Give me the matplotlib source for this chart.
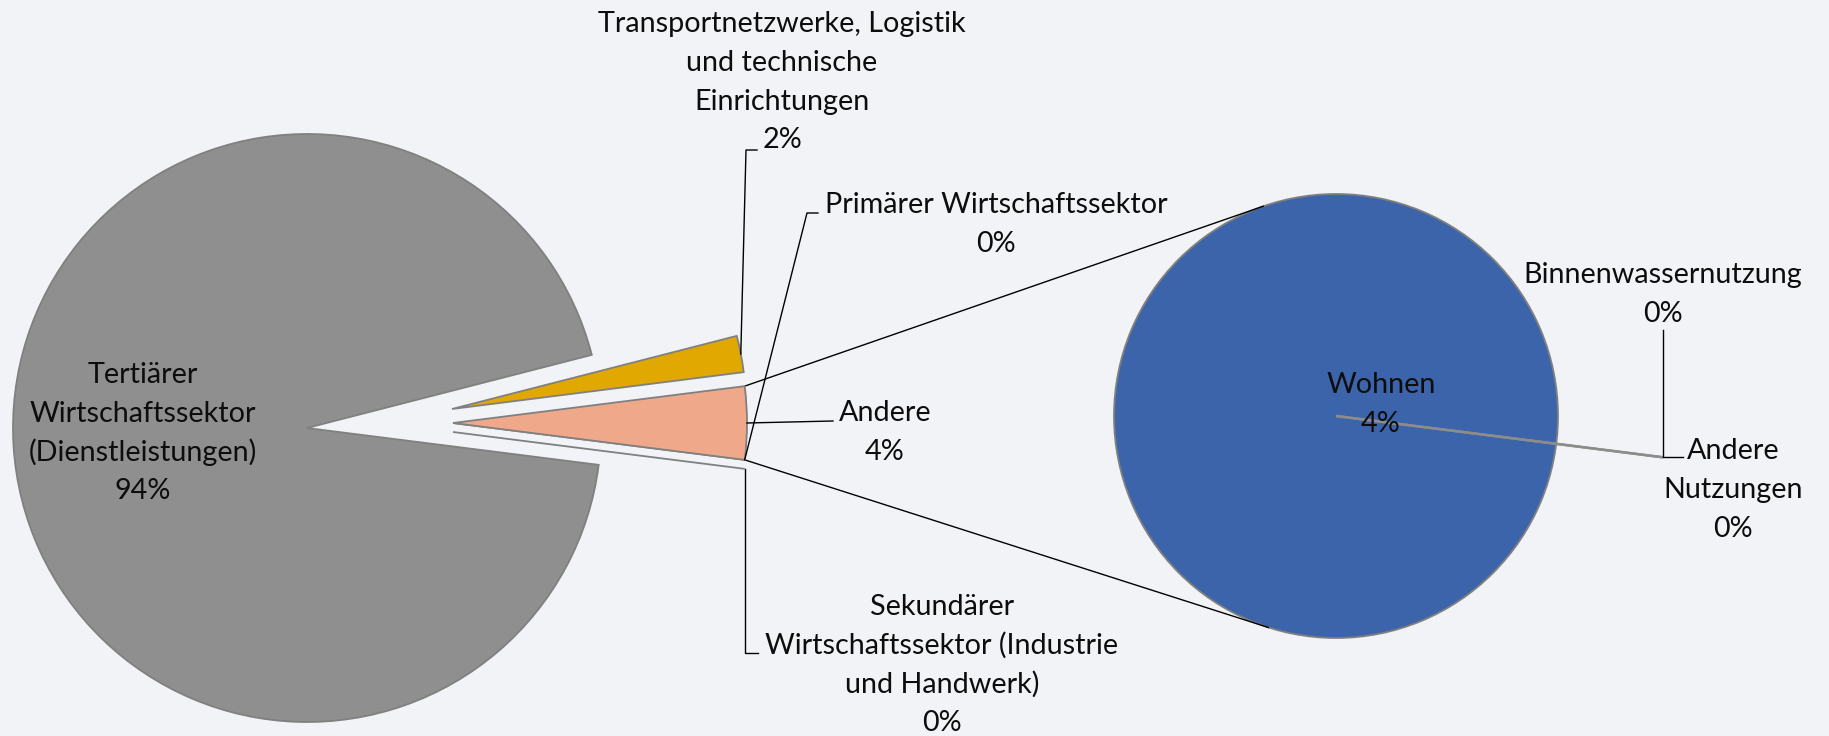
import matplotlib
matplotlib.use("Agg")
import matplotlib.pyplot as plt
import numpy as np

# ---------------- data ----------------
main_labels = [
    "Sekundärer\nWirtschaftssektor (Industrie\nund Handwerk)",
    "Primärer Wirtschaftssektor",
    "Andere",
    "Transportnetzwerke, Logistik\nund technische\nEinrichtungen",
    "Tertiärer\nWirtschaftssektor\n(Dienstleistungen)",
]
sub_labels = ["Wohnen", "Binnenwassernutzung", "Andere\nNutzungen"]
sub_values = [4, 0, 0]
main_values = [0, 0, sum(sub_values), 2, 94]

main_colors = ["#8A9BB8", "#5B7FC0", "#F0A88A", "#E0A800", "#8F8F8F"]
sub_colors = ["#3C64AA", "#9DB2D6", "#7B93C4"]

# ---------------- layout ----------------
W, H = 1829, 736
BG = "#F2F3F7"
EDGE = "#808080"
TXT = "#0D0D0D"


def Y(y):
    return H - y


plt.rcParams['font.family'] = ['Lato', 'DejaVu Sans']
fig = plt.figure(figsize=(W / 100, H / 100), dpi=100, facecolor=BG)
ax = fig.add_axes([0, 0, 1, 1])
ax.set_facecolor(BG)

# fit font size to the reference text width
rend = fig.canvas.get_renderer()
tt = fig.text(0, 0, "Transportnetzwerke, Logistik", fontsize=20)
fs = 20 * 368 / tt.get_window_extent(rend).width
tt.remove()

total = sum(main_values)
R1 = 294
C1 = (307, Y(428))
start1 = -7.2
wedges1, _ = ax.pie(main_values, colors=main_colors, startangle=start1,
                    counterclock=True, radius=R1, center=C1,
                    wedgeprops=dict(edgecolor=EDGE, linewidth=1.3))
# separated slice tips (pie-of-pie style explosion)
tips = [(453, Y(432)), (453, Y(423)), (453, Y(423)), (452, Y(409)), C1]
for w, c in zip(wedges1, tips):
    w.set_center(c)
wedges1[1].set_zorder(1)
wedges1[2].set_zorder(2)


def arcpt(w, ang, rad=None):
    rad = w.r if rad is None else rad
    cx, cy = w.center
    a = np.deg2rad(float(ang))
    return cx + rad * np.cos(a), cy + rad * np.sin(a)


# second pie
R2 = 222
C2 = (1336, Y(416))
wedges2, _ = ax.pie(sub_values, colors=sub_colors, startangle=-7.2,
                    counterclock=True, radius=R2, center=C2,
                    wedgeprops=dict(edgecolor=EDGE, linewidth=1.3))
for w in wedges2:
    span = float(w.theta2) - float(w.theta1)
    if abs(span - 360) < 1e-3:
        # avoid float32 collapse of a full-circle wedge
        w.set_theta1(0.0)
        w.set_theta2(360.0)
for w in wedges2[1:]:
    w.set_radius(R2 * 1.486)
    w.set_linewidth(1.8)
    w.set_edgecolor("#8C8C8C")
    w.set_zorder(3)

# connector lines from the "Andere" slice to the second pie (tangents)
wa = wedges1[2]
for ang, sign in ((wa.theta2, 1), (wa.theta1, -1)):
    P = np.array(arcpt(wa, ang))
    C = np.array(C2)
    d = P - C
    dist = np.hypot(*d)
    base = np.arctan2(d[1], d[0])
    tang = base - sign * np.arccos(R2 / dist)
    T = C + R2 * np.array([np.cos(tang), np.sin(tang)])
    ax.plot([P[0], T[0]], [P[1], T[1]], color="black", lw=1.0, zorder=1)

LS = 38.8


def label(x, base_y, text):
    for i, line in enumerate(text.split("\n")):
        ax.text(x, Y(base_y + i * LS), line, ha="center", va="baseline",
                fontsize=fs, color=TXT, zorder=5)


def pct(v):
    return f"{v / total * 100:.0f}%"


# labels main pie
label(942, 615, main_labels[0] + "\n" + pct(main_values[0]))
label(996, 213, main_labels[1] + "\n" + pct(main_values[1]))
label(885, 421, main_labels[2] + "\n" + pct(main_values[2]))
label(782, 32, main_labels[3] + "\n" + pct(main_values[3]))
label(143, 383, main_labels[4] + "\n" + pct(main_values[4]))
# labels second pie
label(1381, 393, sub_labels[0] + "\n" + pct(sub_values[0]))
label(1663, 283, sub_labels[1] + "\n" + pct(sub_values[1]))
label(1733, 459, sub_labels[2] + "\n" + pct(sub_values[2]))

# leader lines
lk = dict(color="black", lw=1.0, zorder=4)
w = wedges1[3]
p = arcpt(w, (float(w.theta1) + float(w.theta2)) / 2)
ax.plot([757, 746, p[0]], [Y(150), Y(150), p[1]], **lk)
p = arcpt(wedges1[1], wedges1[1].theta1)
ax.plot([818, 807, p[0]], [Y(213), Y(213), p[1]], **lk)
w = wedges1[2]
p = arcpt(w, (float(w.theta1) + float(w.theta2)) / 2)
ax.plot([833, p[0]], [Y(421), p[1]], **lk)
p = arcpt(wedges1[0], wedges1[0].theta1)
ax.plot([758, p[0], p[0]], [Y(653), Y(653), p[1]], **lk)
w = wedges2[1]
p = arcpt(w, w.theta1)
ax.plot([p[0], p[0], p[0] + 20], [Y(330), p[1], p[1]], **lk)

ax.set_xlim(0, W)
ax.set_ylim(0, H)
ax.set_aspect("auto")
ax.axis("off")
fig.savefig("out.png", dpi=100, facecolor=BG)
